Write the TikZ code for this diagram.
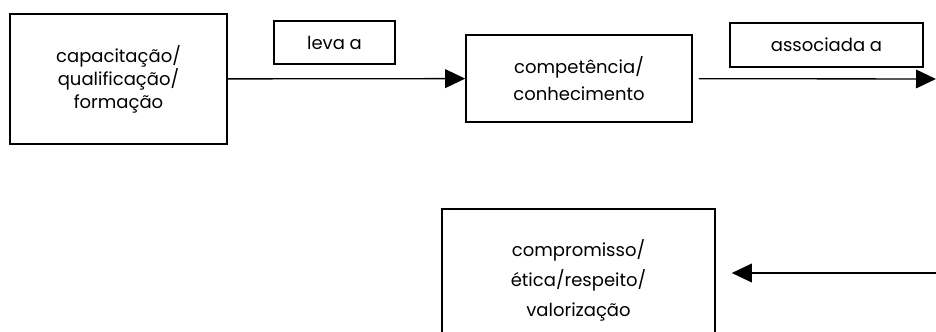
\documentclass[tikz,border=0pt]{standalone}
\usepackage{fontspec}
\setmainfont{Poppins}
\usetikzlibrary{arrows.meta}

\begin{document}
\begin{tikzpicture}[x=0.75pt,y=-0.75pt,
  caixa/.style={draw, line width=1.2pt, align=center, inner sep=0pt, font=\fontsize{13.5}{17.25}\selectfont},
  rotulo/.style={draw, line width=1.2pt, inner sep=0pt, font=\fontsize{13.5}{16}\selectfont},
  seta/.style={line width=1pt, -{Triangle[length=15pt,width=14pt]}}]
\clip (0,0) rectangle (936,332);
\useasboundingbox (0,0) rectangle (936,332);

\node[caixa, minimum width=217*0.75pt, minimum height=130*0.75pt] (formacao) at (118.5,79) {capacitação/\\qualificação/\\formação};
\node[rotulo, minimum width=121*0.75pt, minimum height=43*0.75pt] (leva) at (334.5,42.5) {leva a};
\node[caixa, minimum width=226*0.75pt, minimum height=87*0.75pt] (competencia) at (579,78.5) {competência/\\[2.75pt]conhecimento};
\node[rotulo, minimum width=193*0.75pt, minimum height=44*0.75pt] (associada) at (826.5,45) {associada a};
\node[caixa, minimum width=273*0.75pt, minimum height=142*0.75pt] (compromisso) at (578.5,280) {compromisso/\\[5.25pt]ética/respeito/\\[5.25pt]valorização};

\coordinate (fimassoc) at (936,79);
\coordinate (iniciovolta) at (936,273);

\draw[seta] (formacao) -- (competencia);
\draw[seta, shorten <=6*0.75pt] (competencia) -- (fimassoc);
\draw[seta, shorten >=16*0.75pt] (iniciovolta) -- (compromisso.east |- iniciovolta);
\end{tikzpicture}
\end{document}
